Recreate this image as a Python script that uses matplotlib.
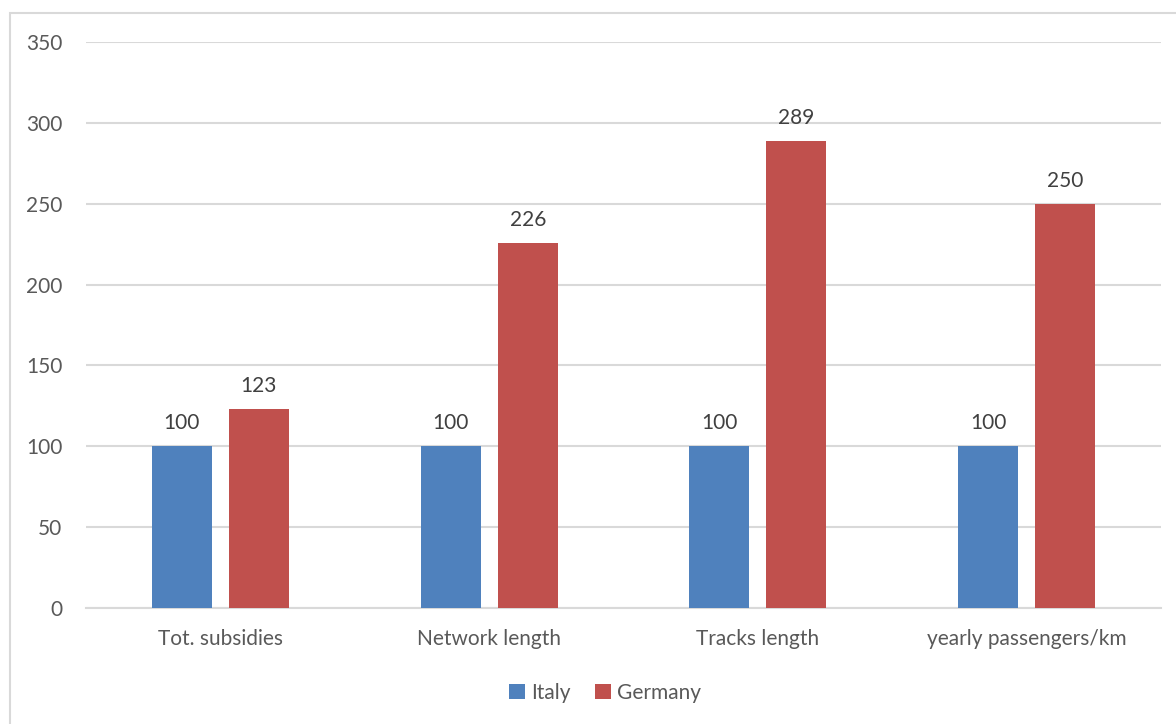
import matplotlib.pyplot as plt
import numpy as np
from matplotlib.patches import Rectangle

categories = ["Tot. subsidies", "Network length", "Tracks length", "yearly passengers/km"]
italy = [100, 100, 100, 100]
germany = [123, 226, 289, 250]

plt.rcParams['font.family'] = ['Lato', 'DejaVu Sans']
text_color = "#595959"
fs = 15

fig = plt.figure(figsize=(11.76, 7.24), dpi=100)
ax = fig.add_axes([86 / 1176, 1 - 608 / 724, (1161 - 86) / 1176, (608 - 42) / 724])

# Rahmen um das Diagramm (rechts und unten ausserhalb des Bildes)
fig.patches.append(Rectangle((10 / 1176, -0.05), 1.2, 1 - 13 / 724 + 0.05,
                             transform=fig.transFigure, fill=False,
                             edgecolor="#d9d9d9", linewidth=1.5))

x = np.arange(len(categories))
w = 0.2235
off = 0.1435
b1 = ax.bar(x - off, italy, w, color="#4f81bd", label="Italy", zorder=3)
b2 = ax.bar(x + off, germany, w, color="#c0504d", label="Germany", zorder=3)

for bars in (b1, b2):
    for r in bars:
        ax.text(r.get_x() + r.get_width() / 2, r.get_height() + 8, f"{r.get_height():.0f}",
                ha="center", va="bottom", fontsize=fs, color="#404040")

ax.set_xlim(-0.5, len(categories) - 0.5)
ax.set_ylim(0, 350)
ax.set_yticks(range(0, 351, 50))
ax.set_xticks(x)
ax.set_xticklabels(categories)
ax.yaxis.grid(True, color="#d9d9d9", linewidth=1.5, zorder=0)
for s in ["top", "right", "left"]:
    ax.spines[s].set_visible(False)
ax.spines["bottom"].set_color("#d9d9d9")
ax.spines["bottom"].set_linewidth(1.5)
ax.tick_params(length=0, labelsize=fs, labelcolor=text_color)
ax.tick_params(axis="y", pad=17)
ax.tick_params(axis="x", pad=15)

leg = fig.legend(loc="center", bbox_to_anchor=(605 / 1176, 1 - 693 / 724), ncol=2, frameon=False,
                 fontsize=fs, handlelength=0.75, handleheight=0.75, handletextpad=0.3,
                 columnspacing=1.2)
for t in leg.get_texts():
    t.set_color(text_color)

fig.savefig("out.png", dpi=100)
